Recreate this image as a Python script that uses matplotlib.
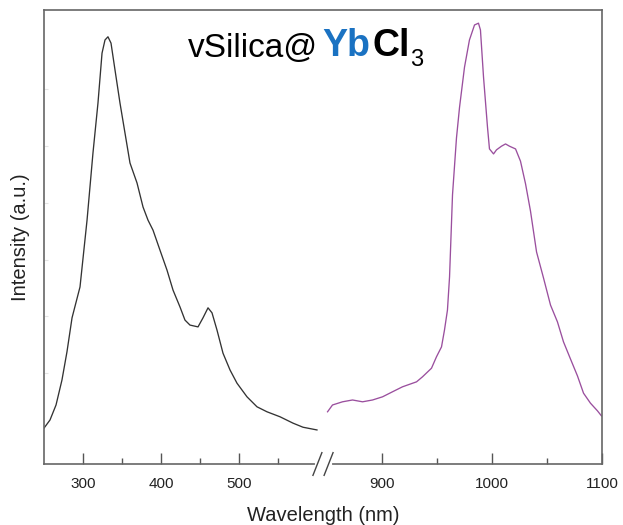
import numpy as np
import matplotlib.pyplot as plt
from matplotlib.ticker import FixedLocator

plt.rcParams['font.family'] = ['Liberation Sans', 'DejaVu Sans']

# Left spectrum (black) - wavelength (nm) and normalised intensity
uv_wl = [250.0, 257.7, 265.4, 273.0, 279.4, 285.9, 296.1, 305.1, 312.7, 319.1,
         324.3, 328.1, 331.9, 335.8, 340.9, 347.3, 353.7, 360.1, 369.1, 376.8,
         383.2, 389.6, 398.5, 407.5, 415.2, 424.1, 430.5, 436.9, 447.2, 453.6,
         460.0, 465.1, 471.5, 479.2, 488.2, 497.1, 509.9, 522.7, 535.5, 552.2,
         568.8, 581.6, 599.5]
uv_int = [0.079, 0.097, 0.130, 0.185, 0.247, 0.322, 0.390, 0.537, 0.685, 0.795,
          0.905, 0.934, 0.941, 0.927, 0.868, 0.795, 0.729, 0.663, 0.619, 0.566,
          0.537, 0.515, 0.471, 0.427, 0.383, 0.346, 0.317, 0.306, 0.302, 0.322,
          0.344, 0.333, 0.295, 0.244, 0.207, 0.178, 0.148, 0.126, 0.115, 0.104,
          0.090, 0.081, 0.075]

# Right spectrum (purple, NIR emission of Yb)
nir_wl = [850.5, 855.0, 864.1, 873.2, 882.3, 891.4, 900.5, 909.5, 918.6, 931.4,
          936.8, 945.0, 949.5, 954.1, 956.8, 959.5, 961.4, 964.1, 967.7, 970.5,
          975.0, 979.5, 984.1, 987.7, 989.5, 992.3, 995.9, 997.7, 1001.4, 1004.1,
          1008.6, 1012.3, 1015.9, 1021.4, 1025.9, 1030.5, 1035.0, 1040.5, 1046.8,
          1053.2, 1059.5, 1065.0, 1071.4, 1077.7, 1083.2, 1089.5, 1095.9, 1099.5]
nir_int = [0.115, 0.130, 0.137, 0.141, 0.137, 0.141, 0.148, 0.159, 0.170, 0.181,
           0.192, 0.211, 0.236, 0.258, 0.295, 0.339, 0.412, 0.593, 0.718, 0.786,
           0.874, 0.934, 0.967, 0.971, 0.956, 0.852, 0.742, 0.694, 0.683, 0.692,
           0.700, 0.705, 0.700, 0.694, 0.667, 0.617, 0.557, 0.467, 0.410,
           0.350, 0.313, 0.269, 0.231, 0.194, 0.156, 0.134, 0.117, 0.106]

major_ticks = [300, 400, 500, 900, 1000, 1100]
minor_ticks = [350, 450, 550, 950, 1050]

# piecewise axis: 250-603 nm squeezed left, 847-1100 nm stretched right
wl_pts = np.array([0, 250, 603, 847, 1100, 2000], dtype=float)
u_pts = np.array([-195.3, 0, 275.7, 279.7, 558, 1548], dtype=float)


def fwd(x):
    return np.interp(x, wl_pts, u_pts)


def inv(u):
    return np.interp(u, u_pts, wl_pts)


fig = plt.figure(figsize=(6.23, 5.25), dpi=100)
ax = fig.add_axes([44 / 623, 61 / 525, 558 / 623, 454 / 525])
ax.set_xscale('function', functions=(fwd, inv))

ax.plot(uv_wl, uv_int, color='#333333', lw=0.95)
ax.plot(nir_wl, nir_int, color='#9a4f9e', lw=0.95)

ax.set_xlim(250, 1100)
ax.set_ylim(0, 1)

ax.xaxis.set_major_locator(FixedLocator(major_ticks))
ax.xaxis.set_minor_locator(FixedLocator(minor_ticks))
ax.set_xticklabels([str(t) for t in major_ticks])
ax.xaxis.set_minor_formatter(plt.NullFormatter())
ax.tick_params(axis='x', which='major', direction='in', length=8, width=1,
               color='#555555', labelsize=11, pad=9, labelcolor='#222222')
ax.tick_params(axis='x', which='minor', direction='in', length=4, width=1,
               color='#555555')
ax.set_yticks([0.2, 0.325, 0.45, 0.575, 0.7, 0.825])
ax.tick_params(axis='y', direction='in', length=3, color='#e4e4e4',
               labelleft=False)

for s in ax.spines.values():
    s.set_color('#666666')
    s.set_linewidth(1.2)

ax.set_xlabel('Wavelength (nm)', fontsize=14.5, labelpad=11, color='#222222')
ax.set_ylabel('Intensity (a.u.)', fontsize=14.5, labelpad=10, color='#222222')

# axis break marks
ax.plot([0.490, 0.512], [0, 0], color='white', lw=3, transform=ax.transAxes,
        clip_on=False, zorder=5)
for xc in [0.490, 0.510]:
    ax.plot([xc - 0.008, xc + 0.008], [-0.025, 0.025], color='#444444', lw=1,
            transform=ax.transAxes, clip_on=False, zorder=6)

# title text in pieces: vSilica@ Yb Cl 3
t1 = ax.text(0.258, 0.896, 'vSilica@', fontsize=24, color='black',
             transform=ax.transAxes, va='baseline', ha='left')
t2 = ax.annotate('Yb', xy=(1, 0), xycoords=t1, xytext=(3, 0),
                 textcoords='offset points', fontsize=27, fontweight='bold',
                 color='#1a72c2', va='bottom')
t3 = ax.annotate('Cl', xy=(1, 0), xycoords=t2, xytext=(1.5, 0),
                 textcoords='offset points', fontsize=27, fontweight='bold',
                 color='black', va='bottom')
ax.annotate('3', xy=(1, 0), xycoords=t3, xytext=(0.5, -5),
            textcoords='offset points', fontsize=17, color='black',
            va='bottom')

fig.savefig('out.png', dpi=100)
